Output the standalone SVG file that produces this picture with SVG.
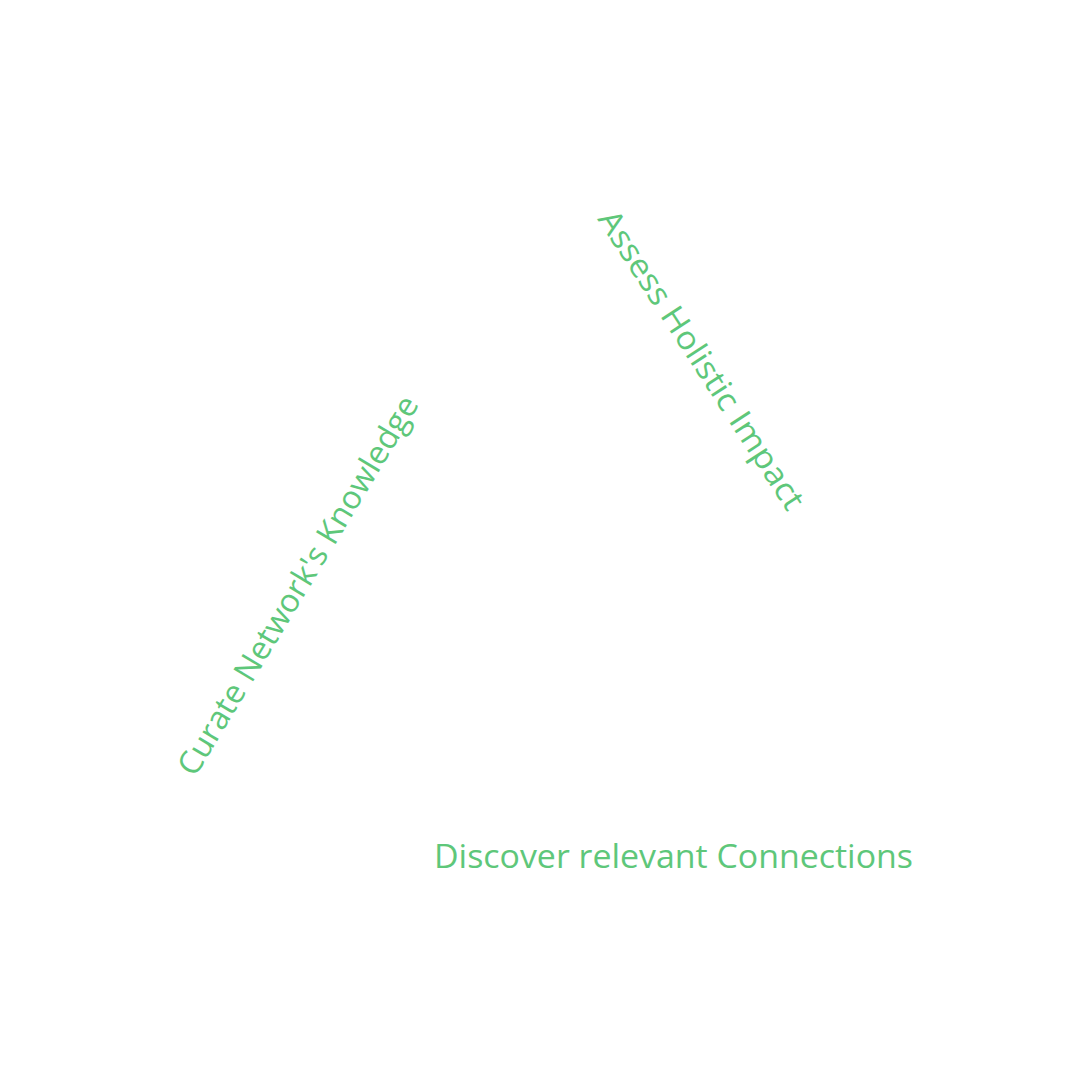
<svg xmlns="http://www.w3.org/2000/svg" width="1080" height="1080" viewBox="0 0 1080 1080">
<style>
.lbl{font-family:"Open Sans","Noto Sans","Liberation Sans",sans-serif;font-weight:400;font-size:32px;fill:#5ec77a}
</style>
<rect width="1080" height="1080" fill="#ffffff"/>
<g id="connectors"></g>
<g id="node-assess">
<text class="lbl" transform="translate(597,219) rotate(57)" textLength="350" lengthAdjust="spacingAndGlyphs">Assess Holistic Impact</text>
</g>
<g id="node-curate">
<text class="lbl" transform="translate(195,778) rotate(-59)" textLength="436" lengthAdjust="spacingAndGlyphs">Curate Network's Knowledge</text>
</g>
<g id="node-discover">
<text class="lbl" x="434" y="868" textLength="479" lengthAdjust="spacingAndGlyphs">Discover relevant Connections</text>
</g>
</svg>
